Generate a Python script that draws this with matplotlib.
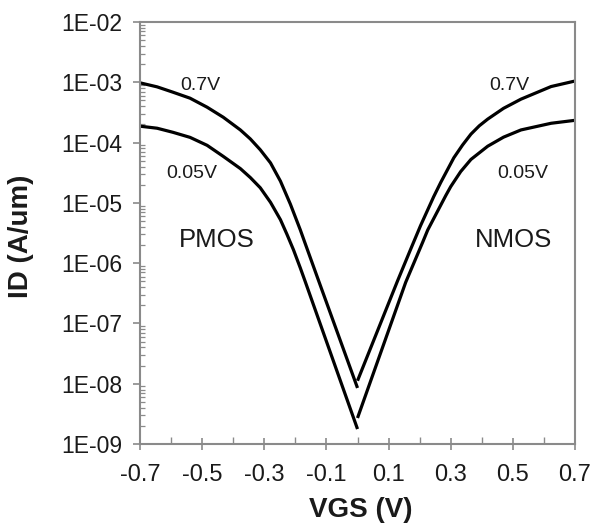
#!/usr/bin/env python3
"""ID-VGS transfer curves for PMOS / NMOS at two drain biases."""

import matplotlib
matplotlib.use("Agg")
import matplotlib.pyplot as plt
from matplotlib.ticker import FixedLocator, LogLocator, NullFormatter

plt.rcParams["font.family"] = ["Liberation Sans", "DejaVu Sans"]
plt.rcParams["axes.unicode_minus"] = False

# PMOS branch (VGS <= 0)
PMOS_VGS_07 = [-0.700, -0.645, -0.594, -0.539, -0.484, -0.432, -0.377, -0.345, -0.313, -0.280,
               -0.248, -0.216, -0.184, -0.168, -0.126, 0.0]
PMOS_ID_07 = [9.8e-4, 8.4e-4, 6.85e-4, 5.45e-4, 3.86e-4, 2.63e-4, 1.62e-4, 1.15e-4, 7.6e-5, 4.6e-5,
              2.29e-5, 9.5e-6, 3.55e-6, 2.09e-6, 5.25e-7, 8.5e-9]
PMOS_VGS_005 = [-0.700, -0.645, -0.594, -0.539, -0.484, -0.432, -0.377, -0.345, -0.313, -0.280,
                -0.248, -0.227, -0.206, -0.184, -0.168, 0.0]
PMOS_ID_005 = [1.87e-4, 1.73e-4, 1.48e-4, 1.22e-4, 9.0e-5, 5.9e-5, 3.7e-5, 2.63e-5, 1.78e-5, 1.02e-5,
               5.25e-6, 3.0e-6, 1.66e-6, 8.3e-7, 4.9e-7, 1.77e-9]

# NMOS branch (VGS >= 0)
NMOS_VGS_07 = [0.0, 0.129, 0.171, 0.203, 0.245, 0.268, 0.310, 0.338, 0.365, 0.392, 0.419,
               0.470, 0.526, 0.623, 0.700]
NMOS_ID_07 = [1.12e-8, 5.1e-7, 1.70e-6, 4.2e-6, 1.26e-5, 2.19e-5, 5.6e-5, 9.1e-5, 1.38e-4, 1.9e-4, 2.45e-4,
              3.7e-4, 5.25e-4, 8.5e-4, 1.05e-3]
NMOS_VGS_005 = [0.0, 0.155, 0.210, 0.226, 0.284, 0.300, 0.332, 0.365, 0.419, 0.470, 0.526, 0.623, 0.700]
NMOS_ID_005 = [2.7e-9, 4.8e-7, 2.24e-6, 3.55e-6, 1.32e-5, 1.86e-5, 3.3e-5, 5.25e-5, 8.7e-5, 1.23e-4,
               1.62e-4, 2.09e-4, 2.34e-4]

X_TICKS = [-0.7, -0.5, -0.3, -0.1, 0.1, 0.3, 0.5, 0.7]
X_TICK_LABELS = ["-0.7", "-0.5", "-0.3", "-0.1", "0.1", "0.3", "0.5", "0.7"]
X_MINOR = [-0.6, -0.4, -0.2, 0.0, 0.2, 0.4, 0.6]
Y_TICKS = [1e-9, 1e-8, 1e-7, 1e-6, 1e-5, 1e-4, 1e-3, 1e-2]
Y_TICK_LABELS = ["1E-09", "1E-08", "1E-07", "1E-06", "1E-05", "1E-04", "1E-03", "1E-02"]

AXIS_GRAY = "#8a8a8a"
TEXT = "#1a1a1a"


def main() -> None:
    fig = plt.figure(figsize=(5.96, 5.29), dpi=100)
    ax = fig.add_axes([0.2349, 0.1607, 0.7299, 0.7977])

    for vgs, ids in [
        (PMOS_VGS_07, PMOS_ID_07),
        (PMOS_VGS_005, PMOS_ID_005),
        (NMOS_VGS_07, NMOS_ID_07),
        (NMOS_VGS_005, NMOS_ID_005),
    ]:
        ax.plot(vgs, ids, color="black", linewidth=2.3, solid_joinstyle="round", solid_capstyle="butt")

    ax.set_yscale("log")
    ax.set_xlim(-0.7, 0.7)
    ax.set_ylim(1e-9, 1e-2)

    ax.xaxis.set_major_locator(FixedLocator(X_TICKS))
    ax.set_xticklabels(X_TICK_LABELS)
    ax.xaxis.set_minor_locator(FixedLocator(X_MINOR))
    ax.yaxis.set_major_locator(FixedLocator(Y_TICKS))
    ax.set_yticklabels(Y_TICK_LABELS)
    ax.yaxis.set_minor_locator(LogLocator(base=10, subs=[2, 3, 4, 5, 6, 7, 8, 9], numticks=20))
    ax.yaxis.set_minor_formatter(NullFormatter())

    ax.tick_params(axis="x", which="major", direction="inout", length=9, width=1.2,
                   color=AXIS_GRAY, labelsize=17, labelcolor=TEXT, pad=10)
    ax.tick_params(axis="x", which="minor", direction="in", length=5, width=1.0, color=AXIS_GRAY)
    ax.tick_params(axis="y", which="major", direction="out", length=5, width=1.2,
                   color=AXIS_GRAY, labelsize=16.5, labelcolor=TEXT, pad=8)
    ax.tick_params(axis="y", which="minor", direction="in", length=3.5, width=0.9, color=AXIS_GRAY)

    for side in ["left", "right", "top", "bottom"]:
        ax.spines[side].set_color(AXIS_GRAY)
        ax.spines[side].set_linewidth(1.5)

    ax.set_xlabel("VGS (V)", fontsize=20, fontweight="bold", color=TEXT, va="center")
    ax.xaxis.set_label_coords(0.508, -0.157)
    ax.set_ylabel("ID (A/um)", fontsize=20, fontweight="bold", color=TEXT, va="center")
    ax.yaxis.set_label_coords(-0.274, 0.493)

    ax.text(-0.506, 8.9e-4, "0.7V", fontsize=14, color=TEXT, ha="center", va="center")
    ax.text(-0.532, 3.1e-5, "0.05V", fontsize=14, color=TEXT, ha="center", va="center")
    ax.text(-0.452, 2.4e-6, "PMOS", fontsize=18.5, color=TEXT, ha="center", va="center")
    ax.text(0.487, 8.9e-4, "0.7V", fontsize=14, color=TEXT, ha="center", va="center")
    ax.text(0.532, 3.1e-5, "0.05V", fontsize=14, color=TEXT, ha="center", va="center")
    ax.text(0.503, 2.4e-6, "NMOS", fontsize=18.5, color=TEXT, ha="center", va="center")

    fig.savefig("out.png", dpi=100)
    plt.close(fig)


if __name__ == "__main__":
    main()
